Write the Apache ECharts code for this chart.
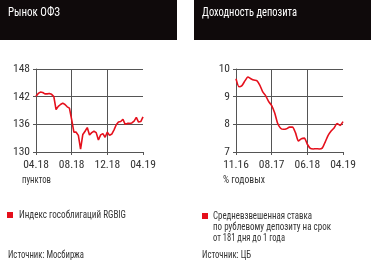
<!DOCTYPE html>
<html><head><meta charset="utf-8">
<script src="https://cdn.jsdelivr.net/npm/echarts@6/dist/echarts.min.js"></script>
<style>html,body{margin:0;padding:0;background:#fff}#c{width:371px;height:264px}</style>
</head><body><div id="c"></div>
<script>
// Left chart: Рынок ОФЗ (index RGBIG), evenly spaced samples 04.18 .. 04.19
var ofzLabels = ['04.18', '08.18', '12.18', '04.19'];
var ofzValues = [142.1, 142.7, 143.0, 142.9, 142.6, 142.6, 142.7, 142.5, 142.0, 139.2,
  139.9, 140.3, 140.6, 140.3, 139.8, 139.5, 137.0, 134.3, 134.3, 133.6,
  130.6, 133.8, 134.5, 135.3, 133.7, 134.2, 134.5, 134.2, 132.6, 133.7,
  134.0, 133.2, 134.3, 133.6, 133.9, 134.8, 135.9, 136.5, 136.6, 137.1,
  136.0, 136.2, 136.2, 136.3, 136.7, 137.5, 136.5, 136.6, 137.6];
var ofzTicks = [130, 136, 142, 148];

// Right chart: Доходность депозита, evenly spaced samples 11.16 .. 04.19
var depLabels = ['11.16', '08.17', '06.18', '04.19'];
var depValues = [9.65, 9.36, 9.40, 9.57, 9.71, 9.65, 9.60, 9.58, 9.42, 9.17,
  9.03, 8.82, 8.68, 8.42, 8.04, 7.86, 7.82, 7.84, 7.90, 7.90,
  7.70, 7.40, 7.48, 7.50, 7.28, 7.13, 7.11, 7.12, 7.11, 7.14,
  7.36, 7.60, 7.76, 7.87, 8.03, 7.96, 8.10];
var depTicks = [7, 8, 9, 10];

var FONT = '"Roboto Condensed","DejaVu Sans Condensed",sans-serif';
var GRID = '#555';
var RED = '#e5101c';

function idx(n) { var a = []; for (var i = 0; i < n; i++) a.push(i); return a; }

function xAxis(gridIndex, values, labels) {
  var step = (values.length - 1) / (labels.length - 1);
  return {
    type: 'category', gridIndex: gridIndex, data: idx(values.length), boundaryGap: false,
    axisLine: { lineStyle: { color: GRID, width: 1 } },
    axisTick: { interval: step - 1, length: 3, lineStyle: { color: GRID } },
    axisLabel: {
      interval: step - 1, margin: 7, color: '#333', fontFamily: FONT, fontSize: 11.5,
      formatter: function (v, i) { return (i % step === 0) ? labels[i / step] : ''; }
    },
    splitLine: { show: true, interval: step - 1, showMinLine: false, showMaxLine: false,
      lineStyle: { color: GRID, width: 1 } }
  };
}
function yAxis(gridIndex, ticks) {
  return {
    type: 'value', gridIndex: gridIndex, min: ticks[0], max: ticks[ticks.length - 1],
    interval: ticks[1] - ticks[0],
    axisLine: { show: true, lineStyle: { color: GRID } },
    axisTick: { show: true, length: 3, lineStyle: { color: GRID } },
    axisLabel: { margin: 6, color: '#333', fontFamily: FONT, fontSize: 11.5 },
    splitLine: { show: true, lineStyle: { color: GRID, width: 1 } }
  };
}

var mctx = document.createElement('canvas').getContext('2d');
function txt(x, y, t, size, width, color) {
  mctx.font = size + 'px ' + FONT;
  var w = mctx.measureText(t).width;
  var s = Math.min(1.1, width / w);
  return { type: 'text', x: x, y: y, scaleX: s, silent: true,
    style: { text: t, x: 0, y: 0, fill: color || '#333', font: size + 'px ' + FONT,
      align: 'left', verticalAlign: 'middle' } };
}

var chart = echarts.init(document.getElementById('c'), null, { renderer: 'canvas' });
chart.setOption({
  animation: false,
  backgroundColor: '#fff',
  grid: [
    { left: 36, right: 228, top: 69, bottom: 112, outerBoundsMode: 'none' },
    { left: 236, right: 28, top: 69, bottom: 112, outerBoundsMode: 'none' }
  ],
  xAxis: [xAxis(0, ofzValues, ofzLabels), xAxis(1, depValues, depLabels)],
  yAxis: [yAxis(0, ofzTicks), yAxis(1, depTicks)],
  series: [
    { type: 'line', xAxisIndex: 0, yAxisIndex: 0, data: ofzValues, showSymbol: false,
      lineStyle: { color: RED, width: 1.6 } },
    { type: 'line', xAxisIndex: 1, yAxisIndex: 1, data: depValues, showSymbol: false,
      smooth: 0.2, lineStyle: { color: RED, width: 1.6 } }
  ],
  graphic: [
    { type: 'rect', shape: { x: 0, y: 0, width: 177, height: 40 }, style: { fill: '#0f0a0b' }, silent: true },
    { type: 'rect', shape: { x: 194, y: 0, width: 177, height: 40 }, style: { fill: '#0f0a0b' }, silent: true },
    txt(8, 13, 'Рынок ОФЗ', 13, 52, '#fff'),
    txt(202, 13, 'Доходность депозита', 13, 95, '#fff'),
    txt(22, 180, 'пунктов', 10.5, 29),
    txt(223, 180, '% годовых', 10.5, 42),
    { type: 'rect', shape: { x: 7, y: 212, width: 6, height: 6 }, style: { fill: RED }, silent: true },
    txt(19, 215, 'Индекс гособлигаций RGBIG', 10.5, 107),
    txt(8, 255, 'Источник: Мосбиржа', 10.5, 76),
    { type: 'rect', shape: { x: 202, y: 213, width: 6, height: 6 }, style: { fill: RED }, silent: true },
    txt(213, 216, 'Средневзвешенная ставка', 10.5, 99),
    txt(213, 227, 'по рублевому депозиту на срок', 10.5, 118),
    txt(213, 238, 'от 181 дня до 1 года', 10.5, 72),
    txt(202, 255, 'Источник: ЦБ', 10.5, 49)
  ]
});
</script>
</body></html>
